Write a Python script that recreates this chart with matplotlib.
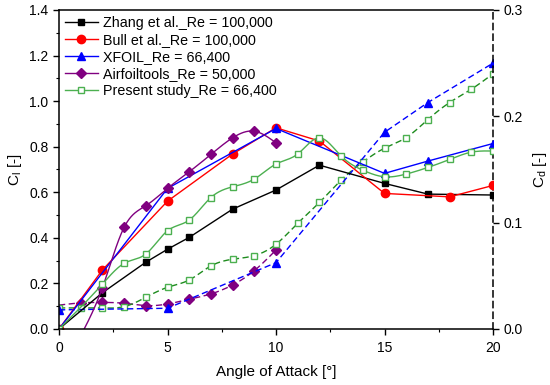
import matplotlib
matplotlib.use('Agg')
import matplotlib.pyplot as plt
import numpy as np

plt.rcParams['font.family'] = ['Liberation Sans', 'DejaVu Sans']
plt.rcParams['mathtext.fontset'] = 'custom'
plt.rcParams['mathtext.rm'] = 'Liberation Sans'
plt.rcParams['mathtext.it'] = 'Liberation Sans'

# ---- lift coefficient data ----
zhang_a = [0, 2, 4, 5, 6, 8, 10, 12, 15, 17, 20]
zhang_cl = [0.0, 0.159, 0.293, 0.350, 0.402, 0.526, 0.610, 0.719, 0.639, 0.592, 0.588]

bull_a = [0, 2, 5, 8, 10, 12, 15, 18, 20]
bull_cl = [0.0, 0.259, 0.561, 0.768, 0.883, 0.825, 0.595, 0.580, 0.630]

xfoil_a = [0, 5, 10, 15, 17, 20]
xfoil_cl = [0.0, 0.617, 0.880, 0.683, 0.737, 0.814]

airf_a = [1, 2, 3, 4, 5, 6, 7, 8, 9, 10]
airf_cl = [-0.03, 0.181, 0.446, 0.541, 0.617, 0.690, 0.766, 0.839, 0.868, 0.817]

pres_a = [0, 2, 3, 4, 5, 6, 7, 8, 9, 10, 11, 12, 13, 14, 15, 16, 17, 18, 19, 20]
pres_cl = [0.0, 0.197, 0.288, 0.329, 0.431, 0.478, 0.577, 0.624, 0.658, 0.724,
           0.768, 0.839, 0.759, 0.697, 0.668, 0.680, 0.709, 0.744, 0.776, 0.781]

# ---- drag coefficient data ----
xfoil_cd_a = [0, 5, 10, 15, 17, 20]
xfoil_cd = [0.018, 0.0195, 0.0624, 0.185, 0.213, 0.250]

airf_cd_a = [0, 1, 2, 3, 4, 5, 6, 7, 8, 9, 10]
airf_cd = [0.0225, 0.0245, 0.025, 0.0242, 0.022, 0.0235, 0.028, 0.033, 0.0414, 0.0549, 0.0743]

pres_cd_a = [0, 1, 2, 3, 4, 5, 6, 7, 8, 9, 10, 11, 12, 13, 14, 15, 16, 17, 18, 19, 20]
pres_cd = [0.0198, 0.0198, 0.0198, 0.021, 0.0298, 0.0392, 0.0461, 0.0593, 0.0656, 0.069,
           0.0797, 0.0994, 0.119, 0.140, 0.157, 0.170, 0.180, 0.197, 0.213, 0.2255, 0.240]


def spline(x, y, n=400):
    # natural cubic spline, just for drawing smooth connecting lines
    x = np.asarray(x, float)
    y = np.asarray(y, float)
    m = len(x)
    h = np.diff(x)
    A = np.zeros((m, m))
    r = np.zeros(m)
    A[0, 0] = A[-1, -1] = 1
    for i in range(1, m - 1):
        A[i, i - 1] = h[i - 1]
        A[i, i] = 2 * (h[i - 1] + h[i])
        A[i, i + 1] = h[i]
        r[i] = 3 * ((y[i + 1] - y[i]) / h[i] - (y[i] - y[i - 1]) / h[i - 1])
    c = np.linalg.solve(A, r)
    xs = np.linspace(x[0], x[-1], n)
    idx = np.clip(np.searchsorted(x, xs) - 1, 0, m - 2)
    dx = xs - x[idx]
    b = (y[1:] - y[:-1]) / h - h * (2 * c[:-1] + c[1:]) / 3
    d = (c[1:] - c[:-1]) / (3 * h)
    ys = y[idx] + b[idx] * dx + c[idx] * dx ** 2 + d[idx] * dx ** 3
    return xs, ys


fig = plt.figure(figsize=(5.5, 3.85), dpi=100)
ax = fig.add_axes([59 / 550, 1 - 329 / 385, 434 / 550, 319 / 385])
ax2 = ax.twinx()

purple = '#800080'
green_l = '#4cb050'
green_d = '#1e8c1e'
dash = (0, (4.5, 2.5))
ms = 5

# Cd curves (right axis)
xs, ys = spline(airf_cd_a, airf_cd)
ax2.plot(xs, ys, color=purple, lw=1, ls=dash)
ax2.plot(airf_cd_a[1:], airf_cd[1:], ls='none', marker='D', ms=ms, color=purple)
xs, ys = spline(pres_cd_a, pres_cd)
ax2.plot(xs, ys, color=green_d, lw=1, ls=dash)
ax2.plot(pres_cd_a, pres_cd, ls='none', marker='s', ms=ms, mfc='white', mec=green_l, mew=1)
ax2.plot(xfoil_cd_a, xfoil_cd, color='blue', lw=1, ls=dash, marker='^', ms=ms + 1)

# Cl curves (left axis)
ax.plot(zhang_a, zhang_cl, color='black', lw=1, marker='s', ms=ms, label='Zhang et al._Re = 100,000')
ax.plot(bull_a, bull_cl, color='red', lw=1, marker='o', ms=ms + 1, label='Bull et al._Re = 100,000')
ax.plot(xfoil_a, xfoil_cl, color='blue', lw=1, marker='^', ms=ms + 1, label='XFOIL_Re = 66,400')
xs, ys = spline(airf_a, airf_cl)
ax.plot(xs, ys, color=purple, lw=1)
ax.plot(airf_a, airf_cl, ls='none', marker='D', ms=ms, color=purple)
xs, ys = spline(pres_a, pres_cl)
ax.plot(xs, ys, color=green_l, lw=1)
ax.plot(pres_a, pres_cl, ls='none', marker='s', ms=ms, mfc='white', mec=green_l, mew=1)

# legend proxies with line + marker
ax.plot([], [], color=purple, lw=1, marker='D', ms=ms, label='Airfoiltools_Re = 50,000')
ax.plot([], [], color=green_l, lw=1, marker='s', ms=ms, mfc='white', mec=green_l,
        label='Present study_Re = 66,400')

ax.set_zorder(ax2.get_zorder() + 1)
ax.patch.set_visible(False)

ax.set_xlim(0, 20)
ax.set_ylim(0, 1.4)
ax2.set_ylim(0, 0.3)
ax.set_xticks([0, 5, 10, 15, 20])
ax.set_xticks(np.arange(0, 20.1, 2.5), minor=True)
ax.set_yticks(np.arange(0, 1.41, 0.2))
ax.set_yticks(np.arange(0, 1.41, 0.1), minor=True)
ax.yaxis.set_major_formatter(matplotlib.ticker.FormatStrFormatter('%.1f'))
ax2.set_yticks([0, 0.1, 0.2, 0.3])
ax2.set_yticklabels(['0.0', '0.1', '0.2', '0.3'])

ax.tick_params(which='major', direction='out', length=4, width=1, labelsize=10)
ax.tick_params(which='minor', direction='out', length=2.2, width=0.8)
ax.tick_params(axis='x', which='major', pad=5)
ax.tick_params(axis='y', right=False)
ax.tick_params(axis='x', top=False)
ax2.tick_params(direction='out', length=4, width=1, labelsize=10)

for sp in ax.spines.values():
    sp.set_linewidth(1.1)
ax.spines['right'].set_visible(False)
for s in ['left', 'top', 'bottom']:
    ax2.spines[s].set_visible(False)
ax2.spines['right'].set_linestyle((0, (4, 3)))
ax2.spines['right'].set_linewidth(1.1)

ax.set_xlabel('Angle of Attack [°]', fontsize=11, labelpad=7)
ax.set_ylabel('C$_{\\mathrm{l}}$ [-]', fontsize=11, labelpad=4)
ax2.set_ylabel('C$_{\\mathrm{d}}$ [-]', fontsize=11, rotation=90, labelpad=6)

handles, labels = ax.get_legend_handles_labels()
ax.legend(handles, labels, loc='upper left', frameon=False, fontsize=10.3,
          handlelength=2.3, handletextpad=0.35, labelspacing=0.22,
          borderaxespad=0.0, borderpad=0.4, bbox_to_anchor=(0.0, 1.0))

fig.savefig('out.png', dpi=100)
